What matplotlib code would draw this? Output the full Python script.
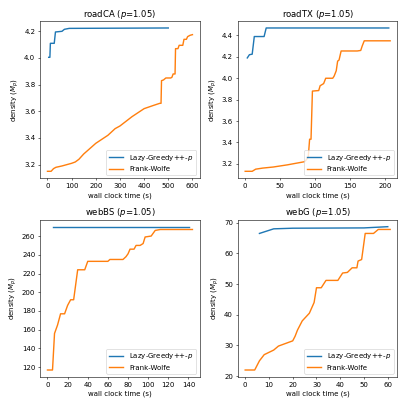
import matplotlib
matplotlib.use("Agg")
from matplotlib import pylab as plt
from matplotlib.ticker import MultipleLocator

# roadCA
ca_lg_t = [5, 10, 12, 28, 33, 60, 70, 90, 500]
ca_lg_d = [4.005, 4.005, 4.11, 4.11, 4.195, 4.2, 4.215, 4.222, 4.225]
ca_fw_t = [0, 15, 25, 35, 60, 80, 100, 115, 130, 150, 200, 250, 280, 300, 350, 400, 440, 465, 470,
           472, 480, 490, 510, 515, 520, 528, 530, 540, 545, 560, 565, 575, 580, 590, 600]
ca_fw_d = [3.15, 3.15, 3.17, 3.18, 3.19, 3.20, 3.21, 3.22, 3.24, 3.28, 3.36, 3.42, 3.47, 3.49, 3.56,
           3.62, 3.645, 3.66, 3.66, 3.83, 3.835, 3.85, 3.85, 3.855, 3.88, 3.88, 4.07, 4.07, 4.095,
           4.095, 4.14, 4.14, 4.16, 4.17, 4.175]

# roadTX
tx_lg_t = [3, 6, 10, 13, 27, 30, 205]
tx_lg_d = [4.19, 4.22, 4.225, 4.39, 4.39, 4.47, 4.47]
tx_fw_t = [0, 10, 15, 25, 40, 60, 85, 90, 92, 94, 96, 105, 107, 112, 115, 125, 127, 130, 132, 134,
           137, 160, 165, 167, 170, 207]
tx_fw_d = [3.13, 3.13, 3.15, 3.16, 3.17, 3.19, 3.22, 3.26, 3.43, 3.43, 3.88, 3.885, 3.93, 3.95, 4.0,
           4.0, 4.02, 4.07, 4.16, 4.17, 4.255, 4.255, 4.26, 4.3, 4.35, 4.35]

# webBS
bs_lg_t = [5, 141]
bs_lg_d = [270, 270]
bs_fw_t = [0, 5, 7, 10, 13, 17, 20, 23, 26, 30, 37, 40, 60, 62, 75, 78, 80, 82, 86, 88, 92, 95, 97,
           103, 107, 112, 144]
bs_fw_d = [117, 117, 156, 165, 177, 177, 186, 192, 192, 224, 224, 233, 233, 235, 235, 238, 241, 246,
           246, 250, 250, 252, 259, 260, 266, 267, 267]

# webG
g_lg_t = [6, 12, 20, 50, 60]
g_lg_d = [66.5, 68, 68.2, 68.3, 68.7]
g_fw_t = [0, 4, 6, 8, 12, 14, 20, 21, 22, 24, 27, 29, 30, 32, 34, 39, 41, 43, 45, 47, 47.5, 49,
          50.5, 54, 56, 61]
g_fw_d = [22, 22, 25, 27, 28.5, 29.8, 31.5, 33, 35, 38, 40.5, 44, 48.8, 48.8, 51.2, 51.2, 53.6,
          53.8, 55.3, 55.3, 57.5, 58, 66.5, 66.5, 67.8, 67.8]

panels = [
    ("roadCA", ca_lg_t, ca_lg_d, ca_fw_t, ca_fw_d, 100),
    ("roadTX", tx_lg_t, tx_lg_d, tx_fw_t, tx_fw_d, 50),
    ("webBS", bs_lg_t, bs_lg_d, bs_fw_t, bs_fw_d, 20),
    ("webG", g_lg_t, g_lg_d, g_fw_t, g_fw_d, 10),
]

fig = plt.figure(figsize=(8, 8), dpi=50.625)
for i, (name, lt, ld, ft, fd, step) in enumerate(panels):
    ax = fig.add_subplot(2, 2, i + 1)
    ax.plot(lt, ld, lw=2, label="Lazy-Greedy++-$p$")
    ax.plot(ft, fd, lw=2, label="Frank-Wolfe")
    ax.xaxis.set_major_locator(MultipleLocator(step))
    ax.set_title(name + " ($p$=1.05)")
    ax.set_xlabel("wall clock time (s)")
    ax.set_ylabel("density ($M_p$)")
    ax.legend(loc="lower right")

plt.tight_layout()
plt.savefig("out.png", dpi=50.625)
